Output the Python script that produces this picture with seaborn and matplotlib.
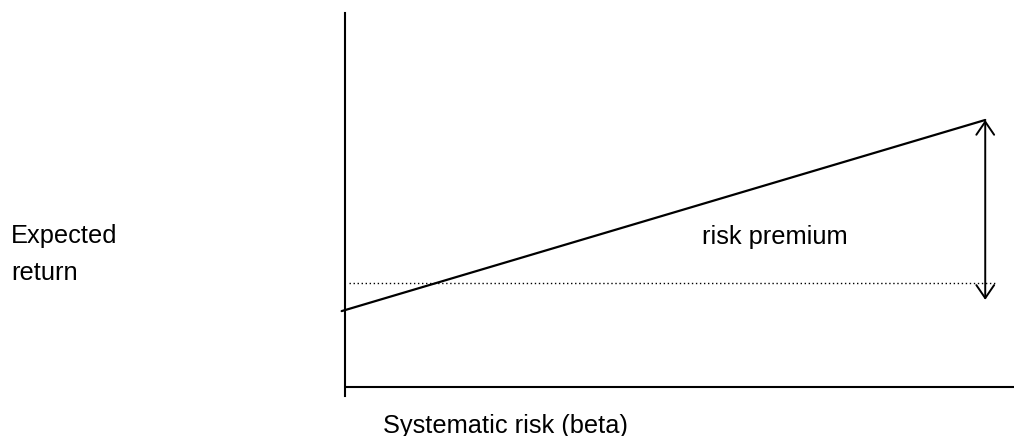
import matplotlib
matplotlib.use("Agg")
import matplotlib.pyplot as plt
import seaborn as sns
import pandas as pd

# Data (abstract units: beta on x, expected return on y)
beta = [-0.005, 0.957]
expected_return = [0.203, 0.714]
risk_free = 0.278
risk_free_span = [0.006, 0.975]
premium_x = 0.957
premium_top = 0.714
premium_bottom = 0.233

ylabel_lines = ["Expected", "return"]
xlabel_text = "Systematic risk (beta)"
premium_label = "risk premium"

sns.set_style("white")
plt.rcParams['font.family'] = ['Liberation Sans', 'DejaVu Sans']
plt.rcParams['text.color'] = 'black'

fig = plt.figure(figsize=(10.14, 4.36), dpi=100)
ax = fig.add_axes([345/1014, 40/436, 669/1014, 383/436])
ax.set_xlim(0, 1)
ax.set_ylim(-0.024, 1.0)

df = pd.DataFrame({"beta": beta, "ret": expected_return})
sns.lineplot(data=df, x="beta", y="ret", ax=ax, color="black", lw=1.6, clip_on=False)

ax.plot(risk_free_span, [risk_free, risk_free], color="black", lw=1.0,
        linestyle=(0, (1, 1.9)))

ax.annotate("", xy=(premium_x, premium_top), xytext=(premium_x, premium_bottom),
            arrowprops=dict(arrowstyle="<->,head_length=0.47,head_width=0.32",
                            color="black", lw=1.4, shrinkA=0, shrinkB=0,
                            mutation_scale=20))

ax.axhline(0, color="black", lw=1.5)

for s in ["top", "right", "bottom"]:
    ax.spines[s].set_visible(False)
ax.spines["left"].set_color("black")
ax.spines["left"].set_linewidth(1.5)
ax.set_xticks([])
ax.set_yticks([])
ax.set_xlabel("")
ax.set_ylabel("")
ax.patch.set_alpha(0)

fs = 18.3
fig.text(11/1014, (436-243)/436, ylabel_lines[0], fontsize=fs, va="baseline", ha="left", color="black")
fig.text(11/1014, (436-280)/436, ylabel_lines[1], fontsize=fs, va="baseline", ha="left", color="black")
fig.text(702/1014, (436-244)/436, premium_label, fontsize=fs, va="baseline", ha="left", color="black")
fig.text(383/1014, (436-433)/436, xlabel_text, fontsize=fs, va="baseline", ha="left", color="black")

fig.savefig("out.png", dpi=100)
